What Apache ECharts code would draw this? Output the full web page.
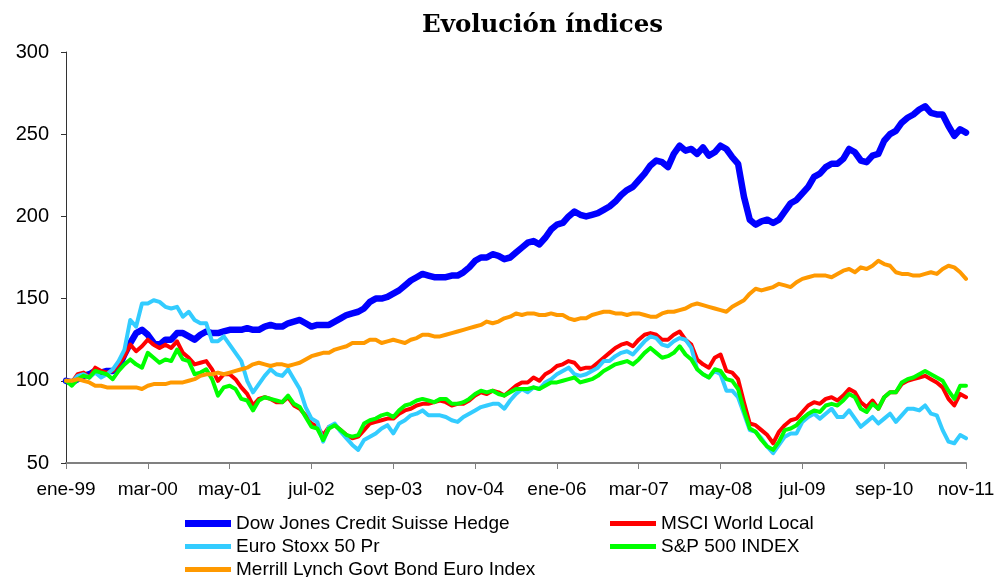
<!DOCTYPE html>
<html>
<head>
<meta charset="utf-8">
<title>Evolución índices</title>
<script src="https://cdn.jsdelivr.net/npm/echarts@6.0.0/dist/echarts.min.js"></script>
<style>
  html, body { margin:0; padding:0; background:#fff; }
  #main { width:994px; height:577px; }
</style>
</head>
<body>
<div id="main"></div>
<script>
// meses de ene-99 a nov-11 (155 puntos mensuales)
var monthNames = ['ene','feb','mar','abr','may','jun','jul','ago','sep','oct','nov','dic'];
var firstYear = 1999;
var nMonths = 155;

var seriesNames = [
  'Dow Jones Credit Suisse Hedge',
  'MSCI World Local',
  'Euro Stoxx 50 Pr',
  'S&P 500 INDEX',
  'Merrill Lynch Govt Bond Euro Index'
];

var hedge = [
  100, 99, 101, 103, 104, 106, 105, 106, 106, 108,
  116, 123, 129, 131, 128, 123, 122, 125, 125, 129,
  129, 127, 125, 128, 130, 129, 129, 130, 131, 131,
  131, 132, 131, 131, 133, 134, 133, 133, 135, 136,
  137, 135, 133, 134, 134, 134, 136, 138, 140, 141,
  142, 144, 148, 150, 150, 151, 153, 155, 158, 161,
  163, 165, 164, 163, 163, 163, 164, 164, 166, 169,
  173, 175, 175, 177, 176, 174, 175, 178, 181, 184,
  185, 183, 187, 192, 195, 196, 200, 203, 201, 200,
  201, 202, 204, 206, 209, 213, 216, 218, 222, 226,
  231, 234, 233, 230, 238, 243, 240, 241, 238, 242,
  237, 239, 243, 241, 236, 232, 212, 198, 195, 197,
  198, 196, 198, 203, 208, 210, 214, 218, 224, 226,
  230, 232, 232, 235, 241, 239, 234, 233, 237, 238,
  246, 250, 252, 257, 260, 262, 265, 267, 263, 262,
  262, 255, 249, 253, 251
];

var msci = [
  100, 99, 104, 105, 102, 108, 106, 105, 106, 110,
  115, 122, 118, 121, 125, 122, 120, 122, 120, 124,
  117, 114, 110, 111, 112, 107, 100, 104, 104, 101,
  96, 92, 85, 89, 90, 89, 87, 87, 90, 85,
  83, 79, 74, 72, 67, 72, 73, 70, 67, 65,
  66, 70, 74, 75, 76, 77, 77, 80, 82, 83,
  85, 86, 86, 87, 88, 87, 85, 86, 86, 88,
  91, 93, 92, 94, 93, 91, 94, 97, 99, 99,
  102, 100, 104, 106, 109, 110, 112, 111, 107, 108,
  108, 111, 114, 117, 120, 122, 123, 121, 125, 128,
  129, 128, 125, 125, 128, 130, 125, 122, 113, 110,
  108, 114, 116, 106, 105, 101, 87, 74, 73, 70,
  67, 62, 69, 73, 76, 77, 81, 85, 87, 86,
  89, 90, 88, 91, 95, 93, 87, 84, 88, 83,
  90, 93, 93, 98, 100, 101, 102, 103, 101, 99,
  96, 89, 85, 92, 90
];

var stoxx = [
  100, 99, 103, 104, 102, 105, 102, 104, 107, 112,
  119, 137, 133, 147, 147, 149, 148, 145, 144, 145,
  139, 142, 137, 135, 135, 124, 124, 127, 122, 117,
  112, 100, 93, 98, 103, 107, 104, 103, 107, 101,
  95, 84, 77, 75, 63, 72, 74, 69, 65, 61,
  58, 64, 66, 68, 71, 73, 68, 74, 76, 79,
  80, 82, 79, 79, 79, 78, 76, 75, 78, 80,
  82, 84, 85, 86, 86, 83, 88, 92, 95, 93,
  96, 95, 99, 101, 104, 106, 108, 104, 103, 104,
  106, 108, 112, 112, 115, 117, 118, 116, 120, 124,
  127, 126, 122, 121, 124, 126, 125, 120, 107, 104,
  102, 106, 104, 94, 94, 90, 80, 70, 69, 65,
  60, 56, 61, 66, 68, 68, 75, 78, 80, 77,
  80, 83, 78, 78, 82, 77, 72, 75, 78, 74,
  77, 80, 75, 79, 83, 83, 82, 85, 80, 79,
  70, 63, 62, 67, 65
];

var sp500 = [
  100, 97, 101, 103, 102, 106, 105, 104, 101, 106,
  110, 113, 110, 108, 117, 114, 111, 113, 112, 119,
  113, 112, 104, 105, 107, 101, 91, 96, 97, 95,
  89, 88, 82, 88, 90, 89, 88, 87, 91, 86,
  84, 78, 72, 71, 64, 71, 73, 70, 67, 66,
  67, 74, 76, 77, 79, 80, 78, 82, 85, 86,
  88, 89, 88, 87, 89, 89, 86, 86, 87, 89,
  92, 94, 93, 94, 92, 91, 93, 95, 95, 95,
  96, 95, 97, 99, 99, 100, 101, 102, 99, 100,
  101, 103, 106, 108, 110, 111, 112, 110, 113, 117,
  120, 117, 114, 115, 117, 121, 116, 113, 107, 104,
  102, 107, 106, 101, 100, 95, 82, 71, 69, 64,
  60, 58, 63, 70, 71, 73, 77, 80, 82, 81,
  85, 86, 85, 88, 92, 90, 83, 81, 86, 83,
  90, 93, 93, 99, 101, 102, 104, 106, 104, 102,
  100, 94, 89, 97, 97
];

var merrill = [
  100, 100, 101, 100, 99, 97, 97, 96, 96, 96,
  96, 96, 96, 95, 97, 98, 98, 98, 99, 99,
  99, 100, 101, 103, 104, 104, 105, 104, 105, 106,
  107, 108, 110, 111, 110, 109, 110, 110, 109, 110,
  111, 113, 115, 116, 117, 117, 119, 120, 121, 123,
  123, 123, 125, 125, 123, 124, 125, 124, 123, 125,
  126, 128, 128, 127, 127, 128, 129, 130, 131, 132,
  133, 134, 136, 135, 136, 138, 139, 141, 140, 141,
  141, 140, 140, 141, 140, 140, 138, 137, 138, 138,
  140, 141, 142, 142, 141, 141, 140, 141, 141, 140,
  139, 139, 141, 142, 142, 143, 144, 146, 147, 146,
  145, 144, 143, 142, 145, 147, 149, 153, 156, 155,
  156, 157, 159, 158, 157, 160, 162, 163, 164, 164,
  164, 163, 165, 167, 168, 166, 169, 168, 170, 173,
  171, 170, 166, 165, 165, 164, 164, 165, 166, 165,
  168, 170, 169, 166, 162
];

var colors = ['#0000FF', '#FF0000', '#33CCFF', '#00FF00', '#FF9900'];
var lineWidths = [6.5, 4, 4, 4, 4];

// etiquetas tipo "ene-99"
var categories = [];
for (var i = 0; i < nMonths; i++) {
  var y = firstYear + Math.floor(i / 12);
  categories.push(monthNames[i % 12] + '-' + String(y).slice(2));
}

var font = 'Arial, "Liberation Sans", sans-serif';
var allData = [hedge, msci, stoxx, sp500, merrill];

// una leyenda por entrada para colocarlas como en el original
var legendPos = [
  {left: 185, top: 514, h: 7},
  {left: 610, top: 514, h: 5},
  {left: 185, top: 537, h: 5},
  {left: 610, top: 537, h: 5},
  {left: 185, top: 560, h: 5}
];

var myChart = echarts.init(document.getElementById('main'));
myChart.setOption({
  animation: false,
  color: colors,
  title: {
    text: 'Evolución índices',
    left: 417,
    top: 8,
    textStyle: {
      fontFamily: '"DejaVu Serif", serif',
      fontWeight: 'bold',
      fontSize: 24.5,
      color: '#000'
    }
  },
  legend: legendPos.map(function (p, k) {
    return {
      data: [seriesNames[k]],
      left: p.left,
      top: p.top,
      padding: 0,
      icon: 'rect',
      itemWidth: 46,
      itemHeight: p.h,
      selectedMode: false,
      textStyle: { fontFamily: font, fontSize: 19, color: '#000' }
    };
  }),
  grid: {
    left: 66,
    right: 28,
    top: 52,
    bottom: 114,
    outerBoundsMode: 'none'
  },
  xAxis: {
    type: 'category',
    data: categories,
    boundaryGap: false,
    axisLine: { lineStyle: { color: '#808080', width: 2 } },
    axisTick: { interval: 13, length: 6, lineStyle: { color: '#808080' } },
    axisLabel: { interval: 13, margin: 17, fontFamily: font, fontSize: 19, color: '#000' },
    splitLine: { show: false }
  },
  yAxis: {
    type: 'value',
    min: 50,
    max: 300,
    interval: 50,
    axisLine: { show: true, lineStyle: { color: '#333', width: 1 } },
    axisTick: { show: true, length: 5, lineStyle: { color: '#333' } },
    axisLabel: { margin: 17, fontFamily: font, fontSize: 20, color: '#000' },
    splitLine: { show: false }
  },
  series: allData.map(function (d, k) {
    return {
      name: seriesNames[k],
      type: 'line',
      data: d,
      showSymbol: false,
      symbol: 'none',
      lineStyle: { width: lineWidths[k], color: colors[k], cap: 'round', join: 'round' },
      z: 2 + k
    };
  })
});
</script>
</body>
</html>
